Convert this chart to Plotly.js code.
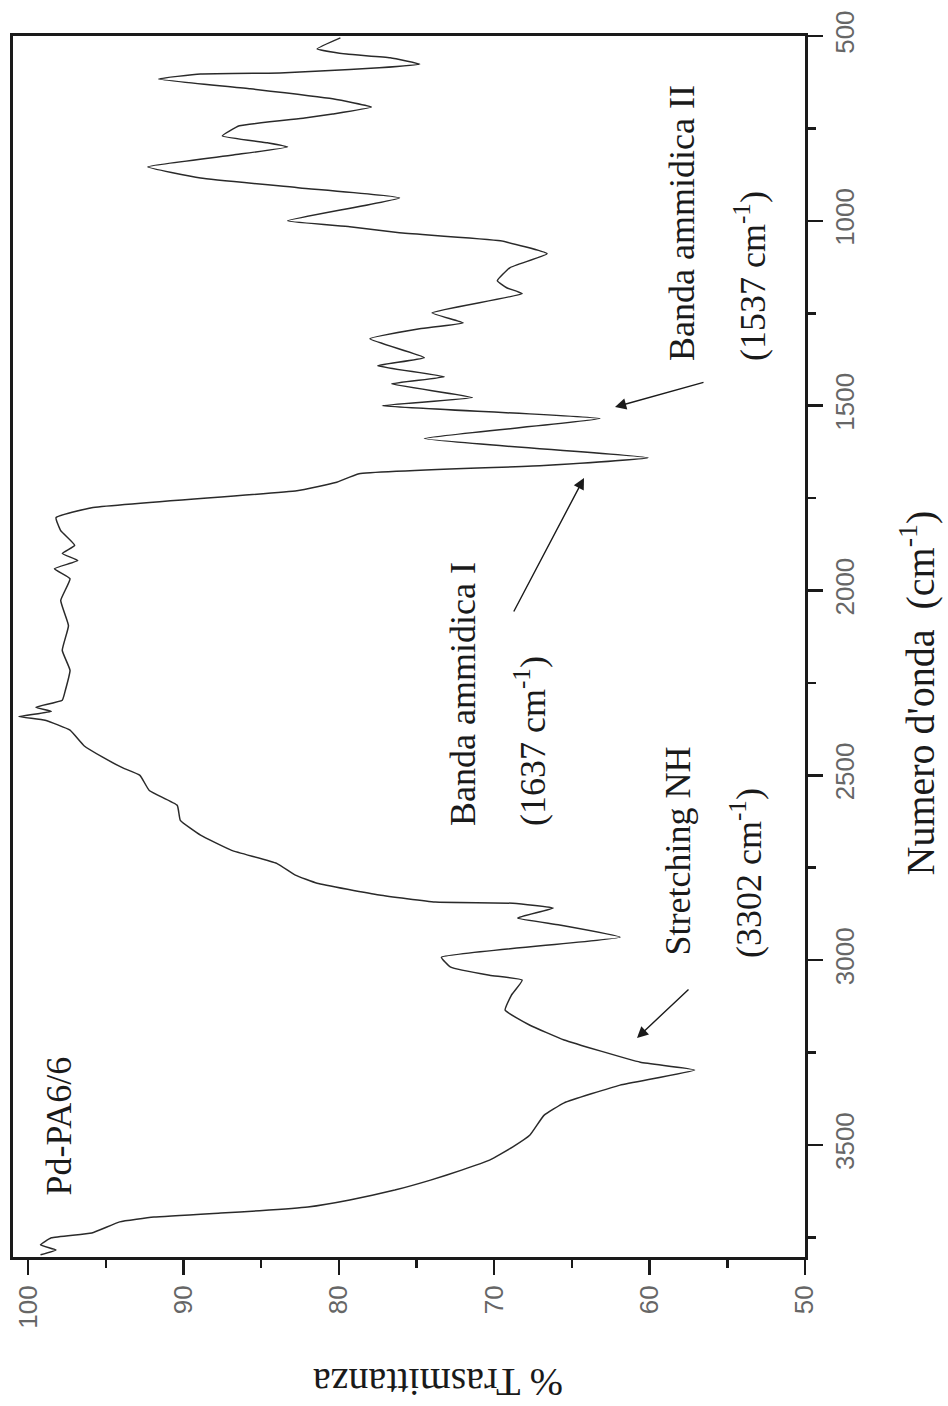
<!DOCTYPE html>
<html>
<head>
<meta charset="utf-8">
<script src="https://cdn.plot.ly/plotly-3.0.1.min.js"></script>
<style>html,body{margin:0;padding:0;background:#fff;}#chart{width:948px;height:1406px;}</style>
</head>
<body>
<div id="chart"></div>
<script>
// Wavenumber (cm-1) and % transmittance
const wavenumber = [505,535,549,559,576,586,595,600,603,616,643,670,692,711,722,743,770,789,800,822,854,884,911,938,1000,1016,1032,1054,1089,1127,1162,1181,1197,1249,1276,1292,1319,1370,1392,1422,1441,1478,1500,1535,1589,1641,1662,1684,1708,1730,1776,1803,1838,1878,1900,1919,1941,1968,2027,2095,2162,2216,2270,2297,2316,2327,2341,2351,2378,2420,2451,2480,2500,2541,2581,2622,2662,2703,2738,2770,2792,2824,2843,2846,2859,2886,2905,2938,2992,3019,3041,3054,3095,3135,3176,3216,3276,3297,3338,3386,3420,3473,3505,3541,3568,3595,3622,3649,3668,3678,3684,3695,3708,3738,3751,3770,3784,3797];
const transmittance = [79.9,81.4,79.5,76.7,74.8,77.4,81.2,83.8,88.9,91.6,85.7,80.4,77.9,80.4,82.2,86.4,87.5,84.6,83.3,86.8,92.3,88.9,82.5,76.1,83.3,79.3,76.1,69.6,66.6,69.0,69.8,69.2,68.2,74.0,72.0,74.8,78.0,74.5,77.5,73.2,76.6,71.4,77.2,63.2,74.5,60.1,66.8,78.7,80.2,82.7,95.9,98.2,97.9,97.0,97.8,96.8,98.3,97.3,97.9,97.4,97.8,97.3,97.6,97.8,99.5,98.5,100.6,98.9,97.3,96.4,95.2,93.9,92.8,92.2,90.4,90.2,88.9,86.9,84.0,82.8,81.4,77.4,73.8,68.8,66.2,68.5,65.8,61.9,73.4,72.8,70.3,68.2,68.9,69.3,67.7,65.5,60.6,57.1,61.9,65.5,66.8,67.7,68.8,70.3,72.1,74.1,76.4,79.3,82.0,85.1,87.6,91.9,94.1,95.9,98.5,99.2,98.2,99.2];

const transTicks = [100,90,80,70,60,50];
const transTickLabels = ['100','90','80','70','60','50'];
const waveTicks = [500,1000,1500,2000,2500,3000,3500];
const waveTickLabels = ['500','1000','1500','2000','2500','3000','3500'];

const sampleLabel = 'Pd-PA6/6';
const xTitle = '% Trasmittanza';
const yTitle = "Numero d'onda&nbsp;&nbsp;(cm<sup>-1</sup>)";
const bandNames = ['Banda ammidica II','Banda ammidica I','Stretching NH'];
const bandPositions = ['(1537 cm<sup>-1</sup>)','(1637 cm<sup>-1</sup>)','(3302 cm<sup>-1</sup>)'];

// plot frame in pixels
const PL = 13, PR = 805, PT = 36, PB = 1257;
const fx = p => (p - PL) / (PR - PL);
const fy = p => (PB - p) / (PB - PT);

const serif = 'Liberation Serif, Times New Roman, serif';
const sans = 'Liberation Sans, Arial, sans-serif';
const ink = '#1a1a1a';

function label(text, px, py, opts) {
  return Object.assign({
    text: text, xref: 'paper', yref: 'paper', x: fx(px), y: fy(py),
    xanchor: 'center', yanchor: 'bottom', textangle: -90, showarrow: false,
    font: {family: serif, size: 36, color: ink}
  }, opts || {});
}
function arrow(tailX, tailY, headX, headY) {
  return {
    text: '', xref: 'paper', yref: 'paper', x: fx(headX), y: fy(headY),
    ax: tailX - headX, ay: tailY - headY, showarrow: true,
    arrowhead: 2, arrowsize: 1.6, arrowwidth: 1.4, arrowcolor: ink, standoff: 0
  };
}

const trace = {
  x: transmittance, y: wavenumber, type: 'scatter', mode: 'lines',
  line: {color: '#2a2a2a', width: 1.5, shape: 'spline', smoothing: 0.35}, hoverinfo: 'skip'
};

const axisCommon = {
  ticks: 'outside', ticklen: 15, tickwidth: 2.5, tickcolor: ink,
  showline: true, linecolor: ink, linewidth: 3, mirror: true,
  showgrid: false, zeroline: false, tickangle: -90,
  tickfont: {family: sans, size: 26, color: '#666'}
};

const layout = {
  width: 948, height: 1406,
  margin: {l: PL, r: 948 - PR, t: PT, b: 1406 - PB},
  paper_bgcolor: '#ffffff', plot_bgcolor: '#ffffff',
  showlegend: false,
  xaxis: Object.assign({}, axisCommon, {
    range: [100.97, 50], tickmode: 'array', tickvals: transTicks, ticktext: transTickLabels,
    minor: {dtick: 5, tick0: 50, ticks: 'outside', ticklen: 8, tickwidth: 2.5, tickcolor: ink, showgrid: false}
  }),
  yaxis: Object.assign({}, axisCommon, {
    range: [3803, 500], side: 'right', tickmode: 'array', tickvals: waveTicks, ticktext: waveTickLabels,
    minor: {dtick: 250, tick0: 500, ticks: 'outside', ticklen: 8, tickwidth: 2.5, tickcolor: ink, showgrid: false}
  }),
  annotations: [
    label(bandNames[0], 682, 363),
    label(bandPositions[0], 750, 363),
    label(bandNames[1], 463, 828),
    label(bandPositions[1], 530, 828),
    label(bandNames[2], 677, 958),
    label(bandPositions[2], 746, 960),
    label(sampleLabel, 58, 1198),
    label(yTitle, 918, 878, {font: {family: serif, size: 40, color: ink}}),
    label(xTitle, 438, 1382, {textangle: 180, yanchor: 'middle', font: {family: serif, size: 40, color: ink}}),
    arrow(705, 382, 615, 407),
    arrow(513, 613, 584, 478),
    arrow(690, 988, 637, 1038)
  ]
};

Plotly.newPlot('chart', [trace], layout, {staticPlot: true, displayModeBar: false});
</script>
</body>
</html>
